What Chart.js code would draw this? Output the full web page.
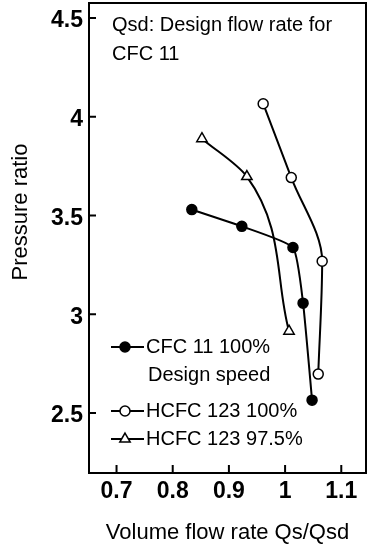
<!DOCTYPE html>
<html>
<head>
<meta charset="utf-8">
<script src="https://cdn.jsdelivr.net/npm/chart.js@4"></script>
<style>
  body { margin: 0; background: #fff; }
  canvas { display: block; }
</style>
</head>
<body>
<canvas id="myChart" width="371" height="546"></canvas>
<script>
// values
const cfcX = [0.834, 0.923, 1.014, 1.032, 1.048];
const cfcY = [3.53, 3.445, 3.338, 3.056, 2.565];
const hcfc100X = [0.961, 1.011, 1.066, 1.059];
const hcfc100Y = [4.066, 3.692, 3.268, 2.697];
const hcfc975X = [0.852, 0.932, 1.007];
const hcfc975Y = [3.889, 3.697, 2.914];

const xTicks = [0.7, 0.8, 0.9, 1, 1.1];
const yTicks = [2.5, 3, 3.5, 4, 4.5];

const seriesLabels = [['CFC 11 100%', 'Design speed'], 'HCFC 123 100%', 'HCFC 123 97.5%'];
const noteLines = ['Qsd: Design flow rate for', 'CFC 11'];

const toPoints = (xs, ys) => xs.map((x, i) => ({ x: x, y: ys[i] }));

Chart.defaults.font.family = "'Liberation Sans', Arial, sans-serif";
Chart.defaults.color = '#000';

// frame, inward ticks, note, legend and y title
const extras = {
    id: 'extras',
    afterDraw(chart) {
        const ctx = chart.ctx;
        const a = chart.chartArea;
        const xs = chart.scales.x, ys = chart.scales.y;
        ctx.save();
        ctx.strokeStyle = '#000';
        ctx.lineWidth = 2;
        ctx.strokeRect(a.left, a.top, a.right - a.left, a.bottom - a.top);
        ctx.beginPath();
        yTicks.forEach(v => {
            const y = ys.getPixelForValue(v);
            ctx.moveTo(a.left, y);
            ctx.lineTo(a.left + 7, y);
        });
        xTicks.forEach(v => {
            const x = xs.getPixelForValue(v);
            ctx.moveTo(x, a.bottom);
            ctx.lineTo(x, a.bottom - 8);
        });
        ctx.stroke();

        ctx.fillStyle = '#000';
        ctx.font = "20px 'Liberation Sans', Arial, sans-serif";
        ctx.textBaseline = 'middle';
        ctx.textAlign = 'left';
        ctx.fillText(noteLines[0], a.left + 23, 25);
        ctx.fillText(noteLines[1], a.left + 23, 54);

        // legend
        const rows = [347, 411, 439];
        chart.data.datasets.forEach((ds, i) => {
            const y = rows[i];
            ctx.strokeStyle = '#000';
            ctx.lineWidth = 2;
            ctx.beginPath();
            ctx.moveTo(a.left + 22, y);
            ctx.lineTo(a.left + 55, y);
            ctx.stroke();
            ctx.fillStyle = ds.pointBackgroundColor;
            ctx.strokeStyle = '#000';
            ctx.lineWidth = 1.5;
            Chart.helpers.drawPoint(ctx, {
                pointStyle: ds.pointStyle, radius: ds.pointRadius, rotation: 0, borderWidth: 1.5
            }, a.left + 36, y);
            ctx.fillStyle = '#000';
            const lab = Array.isArray(ds.label) ? ds.label : [ds.label];
            lab.forEach((t, j) => ctx.fillText(t, a.left + 57 + j * 2, y + j * 28));
        });

        // y axis title
        ctx.font = "22px 'Liberation Sans', Arial, sans-serif";
        ctx.translate(21, 212);
        ctx.rotate(-Math.PI / 2);
        ctx.textAlign = 'center';
        ctx.fillText('Pressure ratio', 0, 0);
        ctx.restore();
    }
};

const ctx = document.getElementById('myChart');

new Chart(ctx, {
    type: 'line',
    data: {
        datasets: [{
            label: seriesLabels[0],
            data: toPoints(cfcX, cfcY),
            pointStyle: 'circle',
            pointRadius: 5,
            pointBackgroundColor: '#000',
            tension: 0.15
        }, {
            label: seriesLabels[1],
            data: toPoints(hcfc100X, hcfc100Y),
            pointStyle: 'circle',
            pointRadius: 5,
            pointBackgroundColor: '#fff',
            indexAxis: 'y',
            cubicInterpolationMode: 'monotone'
        }, {
            label: seriesLabels[2],
            data: toPoints(hcfc975X, hcfc975Y),
            pointStyle: 'triangle',
            pointRadius: 6,
            pointBackgroundColor: '#fff',
            indexAxis: 'y',
            cubicInterpolationMode: 'monotone'
        }].map(d => Object.assign(d, {
            borderColor: '#000',
            borderWidth: 2,
            pointBorderColor: '#000',
            pointBorderWidth: 1.5,
            fill: false
        }))
    },
    options: {
        responsive: false,
        animation: false,
        layout: { autoPadding: false, padding: { top: 3, right: 5, left: 0, bottom: 0 } },
        plugins: {
            legend: { display: false },
            tooltip: { enabled: false }
        },
        scales: {
            x: {
                type: 'linear',
                min: 0.651,
                max: 1.144,
                afterBuildTicks: s => { s.ticks = xTicks.map(v => ({ value: v })); },
                afterFit: s => { s.height = 73; s.paddingLeft = 0; s.paddingRight = 0; },
                grid: { display: false, drawTicks: false },
                border: { display: false },
                ticks: {
                    padding: 5,
                    font: { size: 23, weight: 'bold' },
                    callback: v => String(v)
                },
                title: {
                    display: true,
                    text: 'Volume flow rate Qs/Qsd',
                    font: { size: 22 },
                    padding: { top: 0, bottom: 0 }
                }
            },
            y: {
                type: 'linear',
                min: 2.196,
                max: 4.576,
                afterBuildTicks: s => { s.ticks = yTicks.map(v => ({ value: v })); },
                afterFit: s => { s.width = 89; s.paddingTop = 0; s.paddingBottom = 0; },
                grid: { display: false, drawTicks: false },
                border: { display: false },
                ticks: {
                    padding: 6,
                    labelOffset: 3,
                    font: { size: 23, weight: 'bold' },
                    callback: v => String(v)
                }
            }
        }
    },
    plugins: [extras]
});
</script>
</body>
</html>
